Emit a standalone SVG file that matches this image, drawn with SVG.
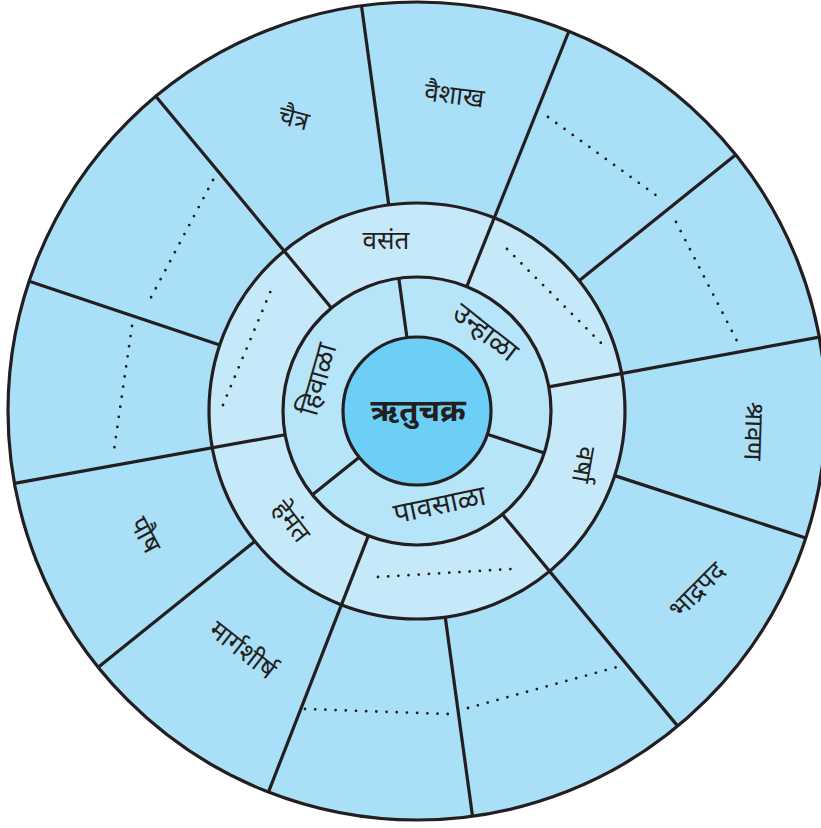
<svg xmlns="http://www.w3.org/2000/svg" width="821" height="828" viewBox="0 0 821 828">
<defs>
<style>
.ring{stroke:#231f20;stroke-width:3.2}
.div{stroke:#231f20;stroke-width:3.2;fill:none}
.dots{stroke:#231f20;stroke-width:2.8;stroke-linecap:round;stroke-dasharray:0 10.2;fill:none}
text{font-family:"Noto Sans Devanagari","Noto Sans",sans-serif;fill:#231f20;text-anchor:middle;dominant-baseline:central}
.m{font-size:26px}
.s{font-size:26px}
.i{font-size:28px}
.c{font-size:31px;font-weight:bold}
</style>
</defs>
<rect width="821" height="828" fill="#ffffff"/>
<g id="rings">
<circle id="month-ring" class="ring" cx="417" cy="411" r="409" fill="#aadff8"/>
<circle id="season-ring" class="ring" cx="417" cy="411" r="208" fill="#c6e9f9"/>
<circle id="inner-ring" class="ring" cx="417" cy="411" r="134" fill="#b6e4f8"/>
</g>
<g id="connectors" transform="translate(417 411)">
<g class="div">
<line x1="134" y1="0" x2="409" y2="0" transform="rotate(230.3)"/>
<line x1="134" y1="0" x2="409" y2="0" transform="rotate(291.8)"/>
<line x1="134" y1="0" x2="409" y2="0" transform="rotate(349.6)"/>
<line x1="134" y1="0" x2="409" y2="0" transform="rotate(50.4)"/>
<line x1="134" y1="0" x2="409" y2="0" transform="rotate(111.3)"/>
<line x1="134" y1="0" x2="409" y2="0" transform="rotate(169.8)"/>
<line x1="208" y1="0" x2="409" y2="0" transform="rotate(18.1)"/>
<line x1="208" y1="0" x2="409" y2="0" transform="rotate(82.2)"/>
<line x1="208" y1="0" x2="409" y2="0" transform="rotate(141.2)"/>
<line x1="208" y1="0" x2="409" y2="0" transform="rotate(198.5)"/>
<line x1="208" y1="0" x2="409" y2="0" transform="rotate(262.2)"/>
<line x1="208" y1="0" x2="409" y2="0" transform="rotate(321.2)"/>
<line x1="74" y1="0" x2="134" y2="0" transform="rotate(262.2)"/>
<line x1="74" y1="0" x2="134" y2="0" transform="rotate(18.3)"/>
<line x1="74" y1="0" x2="134" y2="0" transform="rotate(141.3)"/>
</g>
</g>
<g id="center">
<circle class="ring" cx="417" cy="411" r="74" fill="#6dcff5"/>
<text class="c" x="418" y="413">ऋतुचक्र</text>
</g>
<g id="months">
<g id="m-chaitra"><text class="m" transform="translate(293 121) rotate(15)">चैत्र</text></g>
<g id="m-vaishakh"><text class="m" transform="translate(454 98) rotate(7)">वैशाख</text></g>
<g id="m-jyeshtha"><path class="dots" d="M548 117 L657 196"/></g>
<g id="m-ashadh"><path class="dots" d="M676 222 L737 341"/></g>
<g id="m-shravan"><text class="m" transform="translate(751 431) rotate(92)">श्रावण</text></g>
<g id="m-bhadrapad"><text class="m" transform="translate(699 592) rotate(-45)">भाद्रपद</text></g>
<g id="m-ashwin"><path class="dots" d="M468 708 L617 667"/></g>
<g id="m-kartik"><path class="dots" d="M305 709 L448 714"/></g>
<g id="m-margashirsh"><text class="m" transform="translate(241 652) rotate(38)">मार्गशीर्ष</text></g>
<g id="m-paush"><text class="m" transform="translate(143 536) rotate(62)">पौष</text></g>
<g id="m-magh"><path class="dots" d="M132 326 L113 457"/></g>
<g id="m-phalgun"><path class="dots" d="M213 180 L147 305"/></g>
</g>
<g id="seasons">
<g id="s-vasant"><text class="s" transform="translate(386 243)">वसंत</text></g>
<g id="s-grishma"><path class="dots" d="M507 249 L602 344"/></g>
<g id="s-varsha"><text class="s" transform="translate(581 464) rotate(100)">वर्षा</text></g>
<g id="s-sharad"><path class="dots" d="M378 577 L511 569"/></g>
<g id="s-hemant"><text class="s" transform="translate(289 523) rotate(52)">हेमंत</text></g>
<g id="s-shishir"><path class="dots" d="M223 405 L274 283"/></g>
</g>
<g id="ritu">
<g id="r-unhala"><text class="i" transform="translate(484 334) rotate(38)">उन्हाळा</text></g>
<g id="r-pavsala"><text class="i" transform="translate(440 507) rotate(-12)">पावसाळा</text></g>
<g id="r-hivala"><text class="i" transform="translate(320 380) rotate(-74)">हिवाळा</text></g>
</g>
</svg>
